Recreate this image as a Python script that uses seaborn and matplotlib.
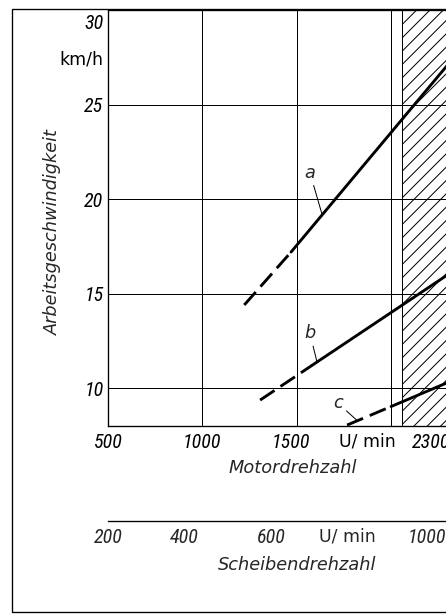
import os
import matplotlib
matplotlib.use("Agg")
import matplotlib.pyplot as plt
from matplotlib import font_manager as fm
from matplotlib.patches import Rectangle
from matplotlib.textpath import TextPath
import seaborn as sns

OUT_IMG = "out.png"

# Daten (Motordrehzahl in U/min, Geschwindigkeit in km/h)
A_DASH_X = [1222, 1470]
A_DASH_Y = [14.4, 17.2]
A_SOLID_X = [1470, 2300]
A_SOLID_Y = [17.2, 27.1]

B_DASH_X = [1306, 1580]
B_DASH_Y = [9.37, 11.2]
B_SOLID_X = [1580, 2300]
B_SOLID_Y = [11.2, 16.0]

C_DASH_X = [1767, 2000]
C_DASH_Y = [8.05, 9.03]
C_SOLID_X = [2000, 2300]
C_SOLID_Y = [9.03, 10.3]

# Kurvenbeschriftung: Buchstabe, Textposition, Punkt auf der Kurve
CURVE_NAMES = ["a", "b", "c"]
NAME_X = [1570, 1570, 1719]
NAME_Y = [21.4, 12.9, 9.2]
LEADER_X = [1634, 1607, 1819]
LEADER_Y = [19.2, 11.4, 8.3]

MOTOR_GRID = [1000, 1500, 2000]
SPEED_GRID = [10, 15, 20, 25]
HATCH_FROM = 2058

MOTOR_LABEL_POS = [500, 1000, 1470, 1872, 2214]
MOTOR_LABELS = ["500", "1000", "1500", "U/ min", "2300"]
SPEED_LABEL_POS = [10, 15, 20, 25, 27.5, 29.4]
SPEED_LABELS = ["10", "15", "20", "25", "km/h", "30"]

DISC_TICKS = [200, 400, 600, 800, 1000]
DISC_LABEL_POS = [200, 381, 590, 771, 960]
DISC_LABELS = ["200", "400", "600", "U/ min", "1000"]

DPI = 80
SKIP = ["bold", "light", "medium", "thin", "black", "semi", "extra", "heavy"]
PREFER = ["liberationsansnarrow", "robotocondensed", "dejavusanscondensed",
          "notosans-condensed", "opensans"]


def narrow_italic():
    # schmale kursive Schrift fuer die Ziffern (aehnlich Normschrift)
    found = []
    for f in fm.fontManager.ttflist:
        fn = os.path.basename(f.fname).lower()
        if not ("narrow" in fn or "condensed" in fn):
            continue
        if f.style not in ("italic", "oblique") or any(s in fn for s in SKIP):
            continue
        rank = len(PREFER)
        for i, p in enumerate(PREFER):
            if fn.startswith(p):
                rank = i
                break
        found.append((rank, f.fname))
    if found:
        found.sort()
        return fm.FontProperties(fname=found[0][1])
    return fm.FontProperties(family=["Roboto", "DejaVu Sans"], style="italic")


def fit_size(fp, text="1000", height_pt=13.3, width_pt=31.5):
    # Ziffernhoehe und -breite wie in der Vorlage (in pt bei 80 dpi)
    bb = TextPath((0, 0), text, size=20, prop=fp).get_extents()
    s_h = 20 * height_pt / bb.height
    s_w = 20 * width_pt / bb.width
    return (s_h * s_w) ** 0.5


def style_labels(labels, fp, size):
    for t in labels:
        if "/" in t.get_text():
            t.set_fontstyle("normal")
            t.set_family("DejaVu Sans")
            t.set_fontsize(15.5)
        else:
            t.set_fontproperties(fp)
            t.set_fontsize(size)


def main():
    sns.set_style("white")
    plt.rcParams["font.family"] = ["DejaVu Sans"]
    plt.rcParams["hatch.linewidth"] = 0.9

    fig = plt.figure(figsize=(446 / DPI, 614 / DPI), dpi=DPI)
    ax = fig.add_axes([108 / 446, 188 / 614, 338 / 446, 416 / 614])

    num_fp = narrow_italic()
    num_size = fit_size(num_fp)

    # Gitter
    for x in MOTOR_GRID:
        ax.axvline(x, color="black", lw=0.9, zorder=1)
    for y in SPEED_GRID:
        ax.axhline(y, color="black", lw=0.9, zorder=1)

    # schraffierter Bereich
    ax.axvspan(HATCH_FROM, 2600, facecolor="none", edgecolor="black",
               hatch="//", lw=0.9, zorder=1)

    dash = (0, (6, 2.5))
    for xs, ys, ls in [(A_DASH_X, A_DASH_Y, dash), (A_SOLID_X, A_SOLID_Y, "-"),
                       (B_DASH_X, B_DASH_Y, dash), (B_SOLID_X, B_SOLID_Y, "-"),
                       (C_DASH_X, C_DASH_Y, dash), (C_SOLID_X, C_SOLID_Y, "-")]:
        sns.lineplot(x=xs, y=ys, ax=ax, color="black", lw=2.6, linestyle=ls,
                     zorder=3)

    for name, tx, ty, px, py in zip(CURVE_NAMES, NAME_X, NAME_Y, LEADER_X, LEADER_Y):
        ax.annotate(name, xy=(px, py), xytext=(tx, ty), ha="center", va="center",
                    fontsize=16, fontstyle="italic",
                    arrowprops=dict(arrowstyle="-", color="black", lw=0.9,
                                    shrinkA=1, shrinkB=0))

    ax.set_xlim(500, 2291)
    ax.set_ylim(8, 30)
    ax.set_xticks(MOTOR_LABEL_POS, MOTOR_LABELS)
    ax.set_yticks(SPEED_LABEL_POS, SPEED_LABELS)
    ax.tick_params(axis="both", length=0, colors="black")
    ax.tick_params(axis="x", pad=6)
    ax.tick_params(axis="y", pad=4)
    style_labels(ax.get_xticklabels(), num_fp, num_size)
    style_labels(ax.get_yticklabels(), num_fp, num_size)

    for side in ["left", "bottom", "top"]:
        ax.spines[side].set_color("black")
        ax.spines[side].set_linewidth(1.2)
    ax.spines["right"].set_visible(False)

    ax.set_xlabel("Motordrehzahl", fontsize=16, fontstyle="italic")
    ax.xaxis.label.set_va("center")
    ax.xaxis.set_label_coords(293 / 446, 1 - 468 / 614, transform=fig.transFigure)
    ax.set_ylabel("Arbeitsgeschwindigkeit", fontsize=16, fontstyle="italic")
    ax.yaxis.label.set_va("center")
    ax.yaxis.set_label_coords(53 / 446, 1 - 232 / 614, transform=fig.transFigure)

    # zweite Skala: Scheibendrehzahl
    ax2 = fig.add_axes([108 / 446, 93 / 614, 338 / 446, 0.001])
    ax2.patch.set_visible(False)
    for side in ["left", "right", "top"]:
        ax2.spines[side].set_visible(False)
    ax2.spines["bottom"].set_color("black")
    ax2.spines["bottom"].set_linewidth(1.2)
    ax2.set_xlim(200, 1005)
    ax2.set_yticks([])
    ax2.xaxis.remove_overlapping_locs = False
    ax2.set_xticks(DISC_TICKS)
    ax2.tick_params(axis="x", which="major", direction="in", length=6.5,
                    width=1.1, color="black", labelbottom=False)
    ax2.set_xticks(DISC_LABEL_POS, DISC_LABELS, minor=True)
    ax2.tick_params(axis="x", which="minor", length=0, pad=6)
    style_labels(ax2.get_xticklabels(minor=True), num_fp, num_size)
    ax2.set_xlabel("Scheibendrehzahl", fontsize=16, fontstyle="italic")
    ax2.xaxis.label.set_va("center")
    ax2.xaxis.set_label_coords(297 / 446, 1 - 565 / 614, transform=fig.transFigure)

    # Rahmen um die Abbildung
    fig.patches.append(Rectangle((12 / 446, 2 / 614), 1.2, 603 / 614,
                                 transform=fig.transFigure, fill=False,
                                 lw=1.2, ec="black"))

    fig.savefig(OUT_IMG, dpi=DPI, facecolor="white")


if __name__ == "__main__":
    main()
